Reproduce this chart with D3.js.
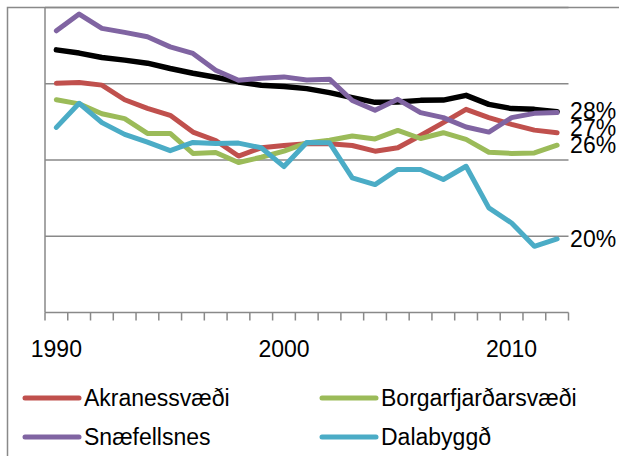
<!DOCTYPE html>
<html>
<head>
<meta charset="utf-8">
<script src="https://cdn.jsdelivr.net/npm/d3@7"></script>
<style>
  html, body { margin: 0; padding: 0; background: #fff; }
  svg { display: block; font-family: "Liberation Sans", Arial, sans-serif; }
</style>
</head>
<body>
<svg id="chart" width="619" height="456"></svg>
<script>
// years 1990 - 2012
const years = d3.range(1990, 2013);

const akranes = [30.03, 30.08, 29.91, 28.95, 28.39, 27.93, 26.83, 26.28, 25.26, 25.80, 25.95, 26.07,
  26.07, 25.95, 25.58, 25.80, 26.61, 27.45, 28.32, 27.78, 27.34, 26.96, 26.79];
const borgarfjordur = [28.95, 28.68, 28.03, 27.71, 26.74, 26.74, 25.43, 25.49, 24.84, 25.18, 25.58, 26.12,
  26.30, 26.57, 26.38, 26.94, 26.41, 26.79, 26.35, 25.51, 25.43, 25.46, 25.97];
const snaefellsnes = [33.47, 34.57, 33.63, 33.37, 33.08, 32.42, 31.99, 30.89, 30.23, 30.36, 30.45, 30.25,
  30.30, 28.90, 28.26, 28.98, 28.11, 27.78, 27.16, 26.83, 27.78, 28.06, 28.11];
const dalabyggd = [27.14, 28.72, 27.45, 26.68, 26.17, 25.61, 26.15, 26.09, 26.11, 25.80, 24.57, 26.15,
  26.13, 23.83, 23.39, 24.38, 24.38, 23.72, 24.59, 21.86, 20.87, 19.34, 19.82];
const total = [32.22, 32.01, 31.72, 31.55, 31.35, 31.00, 30.69, 30.43, 30.12, 29.90, 29.82, 29.68,
  29.42, 29.09, 28.78, 28.80, 28.91, 28.93, 29.24, 28.65, 28.37, 28.32, 28.17];

const seriesNames = ["Akranessvæði", "Borgarfjarðarsvæði", "Snæfellsnes", "Dalabyggð", "Alls"];
const seriesValues = [akranes, borgarfjordur, snaefellsnes, dalabyggd, total];
const seriesColors = ["#c0504d", "#9bbb59", "#8064a2", "#4bacc6", "#000000"];
const inLegend = [true, true, true, true, false];
const endLabel = [true, true, false, true, true];

const yGrid = [20, 25, 30, 35];
const xLabelYears = [1990, 2000, 2010];

const width = 619, height = 456;
const margin = { left: 45, right: 50.5, top: 7.5, bottom: 143.5 };

const svg = d3.select("#chart");

const x = d3.scaleBand()
  .domain(years)
  .range([margin.left, width - margin.right]);

const y = d3.scaleLinear()
  .domain([15, 35])
  .range([height - margin.bottom, margin.top]);

const gridColor = "#898989";

// outer chart border (only top/left are visible)
svg.append("rect")
  .attr("x", 7.5).attr("y", 7.5)
  .attr("width", 800).attr("height", 800)
  .attr("fill", "none")
  .attr("stroke", gridColor)
  .attr("stroke-width", 1.5);

// gridlines
svg.append("g")
  .selectAll("line")
  .data(yGrid)
  .join("line")
  .attr("x1", margin.left)
  .attr("x2", width - margin.right)
  .attr("y1", d => y(d))
  .attr("y2", d => y(d))
  .attr("stroke", gridColor)
  .attr("stroke-width", 1.5);

// y axis line, no labels
svg.append("line")
  .attr("x1", margin.left).attr("x2", margin.left)
  .attr("y1", y(35)).attr("y2", y(15))
  .attr("stroke", gridColor)
  .attr("stroke-width", 1.5);

// x axis: ticks on band boundaries
const xAxis = svg.append("g");
xAxis.append("line")
  .attr("x1", margin.left).attr("x2", width - margin.right)
  .attr("y1", y(15)).attr("y2", y(15))
  .attr("stroke", gridColor)
  .attr("stroke-width", 1.5);

const tickXs = years.map(d => x(d)).concat([x(years[years.length - 1]) + x.bandwidth()]);
xAxis.selectAll(".tick-mark")
  .data(tickXs)
  .join("line")
  .attr("class", "tick-mark")
  .attr("x1", d => d).attr("x2", d => d)
  .attr("y1", y(15)).attr("y2", y(15) + 8)
  .attr("stroke", gridColor)
  .attr("stroke-width", 1.5);

xAxis.selectAll(".tick-label")
  .data(xLabelYears)
  .join("text")
  .attr("class", "tick-label")
  .attr("x", d => x(d) + x.bandwidth() / 2)
  .attr("y", 357)
  .attr("text-anchor", "middle")
  .style("font-size", "23px")
  .style("fill", "#000")
  .text(d => d);

// lines - black total drawn first, the rest on top
const line = d3.line()
  .x((d, i) => x(years[i]) + x.bandwidth() / 2)
  .y(d => y(d));

const drawOrder = [4, 0, 1, 2, 3];
svg.append("g")
  .selectAll("path")
  .data(drawOrder)
  .join("path")
  .attr("d", k => line(seriesValues[k]))
  .attr("fill", "none")
  .attr("stroke", k => seriesColors[k])
  .attr("stroke-width", k => k === 4 ? 5.5 : 5)
  .attr("stroke-linejoin", "round")
  .attr("stroke-linecap", "round");

// end labels, pushed apart when they collide
const last = years.length - 1;
const labels = seriesValues
  .map((vals, k) => ({ k, v: vals[last], ly: y(vals[last]) }))
  .filter(d => endLabel[d.k])
  .sort((a, b) => a.ly - b.ly);

const gap = 17;
for (let i = labels.length - 1; i > 0; i--) {
  if (labels[i].ly - labels[i - 1].ly < gap) {
    labels[i - 1].ly = labels[i].ly - gap;
  }
}

svg.append("g")
  .selectAll("text")
  .data(labels)
  .join("text")
  .attr("x", x(years[last]) + x.bandwidth() / 2 + 13)
  .attr("y", d => d.ly)
  .attr("dy", "0.35em")
  .style("font-size", "23px")
  .style("fill", "#000")
  .text(d => d3.format(".0%")(Math.round(d.v) / 100));

// legend, two columns
const legendItems = seriesNames.map((name, k) => ({ name, k })).filter(d => inLegend[d.k]);
const legend = svg.append("g")
  .selectAll("g")
  .data(legendItems)
  .join("g")
  .attr("transform", (d, i) => `translate(${i % 2 === 0 ? 25 : 322},${i < 2 ? 398 : 437})`);

legend.append("line")
  .attr("x1", 0).attr("x2", 54)
  .attr("y1", 0).attr("y2", 0)
  .attr("stroke", d => seriesColors[d.k])
  .attr("stroke-width", 5)
  .attr("stroke-linecap", "round");

legend.append("text")
  .attr("x", 59)
  .attr("y", 8)
  .style("font-size", "23px")
  .style("fill", "#000")
  .text(d => d.name);
</script>
</body>
</html>
